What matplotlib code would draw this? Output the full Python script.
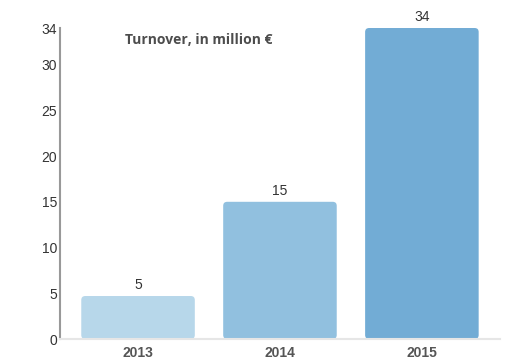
import matplotlib
matplotlib.use("Agg")
import matplotlib.pyplot as plt
from matplotlib.patches import FancyBboxPatch

# data
years = ["2013", "2014", "2015"]
turnover = [4.7, 15, 34]
bar_labels = ["5", "15", "34"]
bar_colors = ["#b7d7ea", "#91c0df", "#72acd5"]
yticks = [0, 5, 10, 15, 20, 25, 30, 34]

plt.rcParams['font.family'] = ['Liberation Sans', 'DejaVu Sans']

fig = plt.figure(figsize=(5.1, 3.6), dpi=100)
ax = fig.add_axes([0.1176, 0.0583, 0.8627, 0.8639])

xs = list(range(len(years)))
bars = ax.bar(xs, turnover, width=0.8, color=bar_colors)

# swap plain rectangles for rounded ones
x_px = 0.8627 * 510 / 3.1
y_px = 0.8639 * 360 / 34
for b, c in zip(bars, bar_colors):
    b.set_visible(False)
    r = 4 / x_px
    p = FancyBboxPatch((b.get_x(), b.get_y()), b.get_width(), b.get_height(),
                       boxstyle=f"round,pad=0,rounding_size={r}",
                       mutation_aspect=x_px / y_px, facecolor=c, edgecolor="none")
    ax.add_patch(p)

for x, v, lab in zip(xs, turnover, bar_labels):
    ax.text(x, v + 0.4, lab, ha="center", va="bottom", fontsize=10, color="#333333")

ax.set_xlim(-0.55, 2.55)
ax.set_ylim(0, 34)
ax.set_yticks(yticks)
ax.set_yticklabels([str(t) for t in yticks], fontsize=10, color="#333333")
ax.set_xticks(xs)
ax.set_xticklabels(years, fontsize=10, fontweight="bold", color="#555555")
ax.tick_params(axis="y", length=0, pad=2)
ax.tick_params(axis="x", length=0, pad=5)

for s in ["top", "right"]:
    ax.spines[s].set_visible(False)
ax.spines["left"].set_color("#999999")
ax.spines["left"].set_linewidth(1.5)
ax.spines["bottom"].set_color("#e6e6e6")
ax.spines["bottom"].set_linewidth(1.5)

ax.text(-0.092, 32.7, "Turnover, in million €", fontsize=10, fontweight="bold",
        color="#4d4d4d", ha="left", va="center", family=["Open Sans", "DejaVu Sans"])

fig.savefig("out.png", dpi=100)
